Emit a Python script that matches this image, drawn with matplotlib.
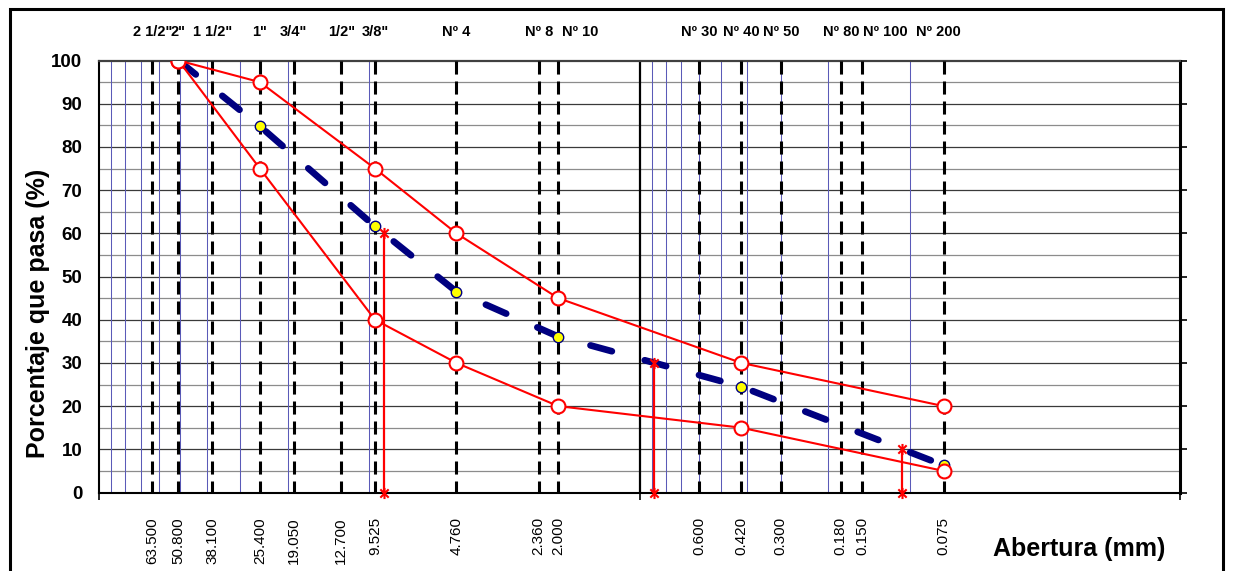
import numpy as np
import matplotlib
matplotlib.use("Agg")
import matplotlib.pyplot as plt
from matplotlib.path import Path
from matplotlib.patches import Rectangle

plt.rcParams['font.family'] = ['Liberation Sans', 'DejaVu Sans']
plt.rcParams['lines.scale_dashes'] = False

# Sieve series (ASTM) and openings in mm
sieve_names = ['2 1/2"', '2"', '1 1/2"', '1"', '3/4"', '1/2"', '3/8"', 'Nº 4',
               'Nº 8', 'Nº 10', 'Nº 30', 'Nº 40', 'Nº 50', 'Nº 80', 'Nº 100', 'Nº 200']
sieve_mm = [63.5, 50.8, 38.1, 25.4, 19.05, 12.7, 9.525, 4.76,
            2.36, 2.0, 0.6, 0.42, 0.3, 0.18, 0.15, 0.075]

# Specification band and sample gradation
band_mm = [50.8, 25.4, 9.525, 4.76, 2.0, 0.42, 0.075]
upper_pct = [100, 95, 75, 60, 45, 30, 20]
lower_pct = [100, 75, 40, 30, 20, 15, 5]
sample_mm = [50.8, 25.4, 9.525, 4.76, 2.0, 0.42, 0.075]
sample_pct = [100, 84.8, 61.6, 46.5, 36.1, 24.5, 6.3]

# Characteristic diameters
d_percents = [60, 30, 10]

y_ticks = list(range(0, 101, 10))

W, H = 1235, 571
fig = plt.figure(figsize=(W / 100, H / 100), dpi=100)
ax = fig.add_axes([99 / W, 1 - 492.5 / H, (1180 - 99) / W, (492.5 - 60.5) / H])

ax.set_xscale('log')
ax.set_xlim(100, 0.01)
ax.set_ylim(0, 100)

# horizontal grid every 5 %
for p in range(5, 100, 5):
    ax.axhline(p, color='#3a3a3a' if p % 10 == 0 else '#8c8c8c', lw=0.9, zorder=1)

# logarithmic minor grid in the gravel decade and the fine-sand decade
for e in [1, -1]:
    for k in range(1, 10):
        ax.axvline(k * 10.0 ** e, color='#5a5ab8', lw=0.75, zorder=1)
ax.axvline(1.0, color='black', lw=1.6, zorder=2)

# dashed sieve lines
for s in sieve_mm:
    ax.plot([s, s], [100, 0], color='black', lw=2.2, dashes=(9.4, 5), zorder=3)

# sample gradation curve
ax.plot(sample_mm, sample_pct, color='#000080', lw=4.8, dashes=(16, 24.5),
        dash_capstyle='round', zorder=4)
ax.plot(sample_mm, sample_pct, linestyle='none', marker='o', ms=7.5,
        mfc='yellow', mec='#000080', mew=1, zorder=5)

# specification limits
for pct in (upper_pct, lower_pct):
    ax.plot(band_mm, pct, color='red', lw=1.5, marker='o', ms=10,
            mfc='white', mec='red', mew=1.5, zorder=6)

# D60, D30, D10 by log interpolation of the sample curve
star = Path([(0, -1), (0, 1), (-0.75, -0.75), (0.75, 0.75), (-0.75, 0.75), (0.75, -0.75)],
            [Path.MOVETO, Path.LINETO, Path.MOVETO, Path.LINETO, Path.MOVETO, Path.LINETO])
log_mm = np.log10(sample_mm)
for p in d_percents:
    d = 10 ** np.interp(p, sample_pct[::-1], log_mm[::-1])
    ax.plot([d, d], [0, p], color='red', lw=1.6, marker=star, ms=8, mew=1.5,
            mec='red', zorder=7, clip_on=False)

# axes styling
ax.set_xticks([100, 1, 0.01])
ax.set_xticklabels([])
ax.xaxis.set_minor_locator(matplotlib.ticker.NullLocator())
ax.tick_params(axis='x', which='major', direction='out', length=5, width=1.2, color='black')
ax.set_yticks(y_ticks)
ax.set_yticklabels([str(v) for v in y_ticks], fontsize=13.5, fontweight='bold')
ax.tick_params(axis='y', left=False, right=True, labelleft=True, labelright=False,
               direction='out', length=5, width=1.2, pad=7)
for side in ['left', 'bottom']:
    ax.spines[side].set_linewidth(1.5)
    ax.spines[side].set_color('black')
ax.spines['right'].set_linewidth(2.2)
ax.spines['top'].set_linewidth(1.6)
ax.spines['top'].set_color('#404040')

# sieve names on top
name_shift = {'Nº 10': 16, 'Nº 100': 16.5, 'Nº 200': -3.5}
tr = ax.get_xaxis_transform()
for name, s in zip(sieve_names, sieve_mm):
    ax.annotate(name, xy=(s, 1.066), xycoords=tr, xytext=(name_shift.get(name, 0), 0),
                textcoords='offset points', ha='center', va='center',
                fontsize=10.5, fontweight='bold')

# sieve openings below
for s in sieve_mm:
    ax.text(s, -0.057, f'{s:.3f}', transform=tr, rotation=90, ha='center', va='top',
            fontsize=11)

fig.text(38.5 / W, 1 - 313.5 / H, 'Porcentaje que pasa (%)', rotation=90,
         ha='center', va='center', fontsize=18, fontweight='bold')
fig.text(1079 / W, 1 - 549 / H, 'Abertura (mm)', ha='center', va='center',
         fontsize=18, fontweight='bold')

# outer frame
fig.patches.append(Rectangle((10 / W, -0.1), (1223 - 10) / W, 1.1 - 9 / H,
                             transform=fig.transFigure, fill=False,
                             edgecolor='black', lw=2.2))

fig.savefig('out.png', dpi=100)
